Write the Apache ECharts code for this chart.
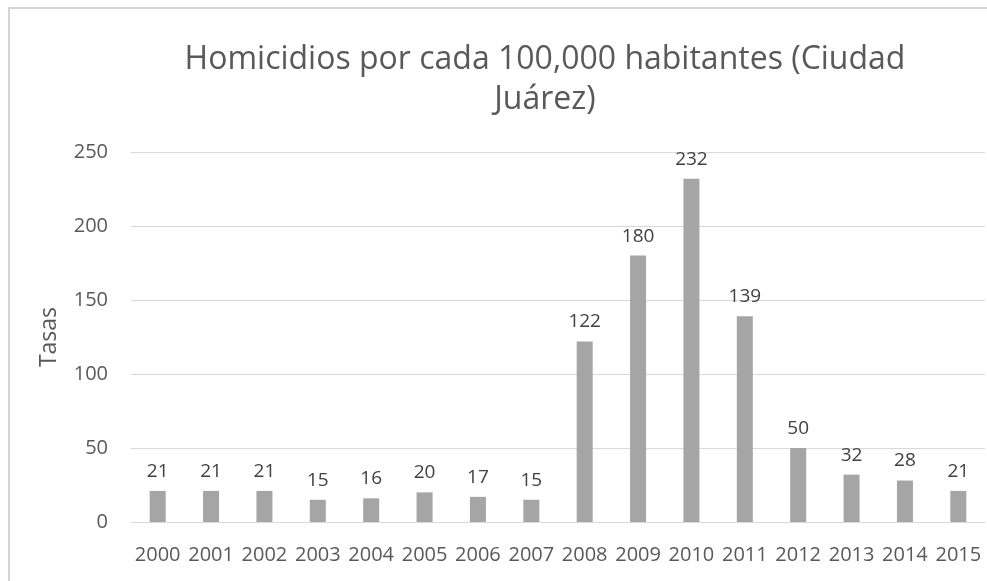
<!DOCTYPE html>
<html>
<head>
<meta charset="utf-8">
<script src="https://cdn.jsdelivr.net/npm/echarts@6/dist/echarts.min.js"></script>
<style>html,body{margin:0;padding:0;background:#fff;}#c{width:987px;height:581px;}</style>
</head>
<body>
<div id="c"></div>
<script>
const years = ['2000','2001','2002','2003','2004','2005','2006','2007','2008','2009','2010','2011','2012','2013','2014','2015'];
const rates = [21,21,21,15,16,20,17,15,122,180,232,139,50,32,28,21];
const titleLine1 = 'Homicidios por cada 100,000 habitantes (Ciudad';
const titleLine2 = 'Juárez)';
const yAxisName = 'Tasas';

const chart = echarts.init(document.getElementById('c'), null, {renderer: 'canvas'});
chart.setOption({
  backgroundColor: '#ffffff',
  animation: false,
  title: {
    text: titleLine1 + '\n' + titleLine2,
    left: 540, top: 35, textAlign: 'center',
    textStyle: {fontFamily: 'Open Sans', fontSize: 32, fontWeight: 'normal', color: '#595959', lineHeight: 40}
  },
  graphic: [
    {type: 'line', shape: {x1: 8, y1: 8, x2: 987, y2: 8}, style: {stroke: '#d4d4d4', lineWidth: 2}},
    {type: 'line', shape: {x1: 9, y1: 8, x2: 9, y2: 581}, style: {stroke: '#d4d4d4', lineWidth: 2}}
  ],
  grid: {left: 131, right: 2, top: 152, bottom: 59, containLabel: false},
  xAxis: {
    type: 'category', data: years,
    axisLine: {show: true, lineStyle: {color: '#d9d9d9', width: 1}},
    axisTick: {show: false},
    axisLabel: {fontFamily: 'Open Sans', fontSize: 20, color: '#595959', margin: 23, interval: 0}
  },
  yAxis: {
    type: 'value', min: 0, max: 250, interval: 50,
    name: yAxisName, nameLocation: 'middle', nameGap: 70, nameRotate: 90,
    nameTextStyle: {fontFamily: 'Open Sans', fontSize: 23, color: '#595959'},
    axisLine: {show: false}, axisTick: {show: false},
    axisLabel: {fontFamily: 'Open Sans', fontSize: 20, color: '#595959', margin: 23},
    splitLine: {lineStyle: {color: '#d9d9d9', width: 1}}
  },
  series: [{
    type: 'bar', data: rates, barWidth: 16,
    itemStyle: {color: '#a5a5a5'},
    label: {show: true, position: 'top', distance: 10, fontFamily: 'Open Sans', fontSize: 19, color: '#404040'}
  }]
});
</script>
</body>
</html>
